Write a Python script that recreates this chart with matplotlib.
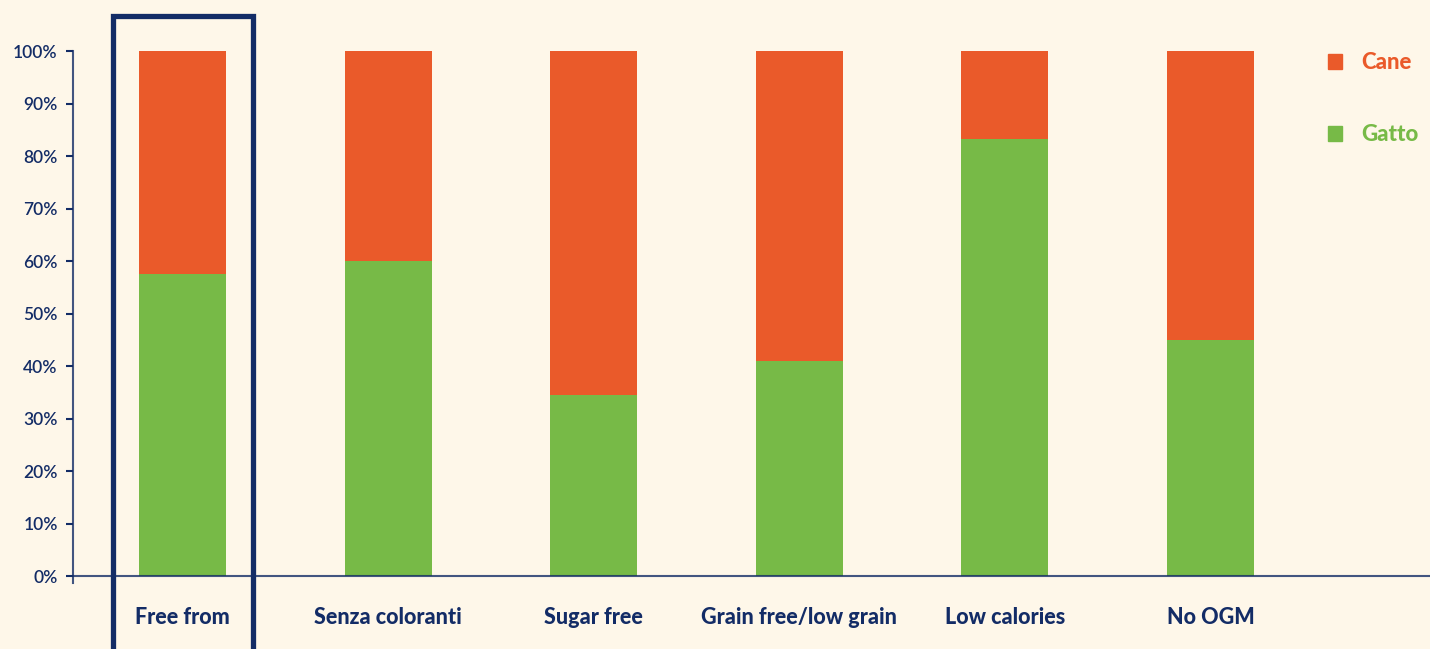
import matplotlib
matplotlib.use("Agg")
import matplotlib.pyplot as plt
from matplotlib.patches import Rectangle, Patch
import numpy as np

categories = ["Free from", "Senza coloranti", "Sugar free", "Grain free/low grain", "Low calories", "No OGM"]
gatto = [57.5, 60.0, 34.5, 41.0, 83.2, 45.0]
cane = [100 - g for g in gatto]
yticks = [0, 10, 20, 30, 40, 50, 60, 70, 80, 90, 100]

orange = "#EA5A2A"
green = "#77BA47"
navy = "#132C66"
bg = "#FEF7E9"

plt.rcParams["font.family"] = ["Lato", "DejaVu Sans"]

fig = plt.figure(figsize=(14.3, 6.49), dpi=100, facecolor=bg)
W, H = 1430, 649
ax = fig.add_axes([73 / W, (H - 583) / H, (W - 73) / W, (583 - 51) / H])
ax.set_facecolor(bg)

x = np.arange(len(categories))
ax.bar(x, gatto, width=0.423, color=green, zorder=2)
ax.bar(x, cane, bottom=gatto, width=0.423, color=orange, zorder=2)

ax.set_xlim(-0.5326, 6.068)
ax.set_ylim(-1.33, 100)
ax.axhline(0, color=navy, lw=1.5, alpha=0.8, zorder=3)

ax.set_yticks(yticks)
ax.set_yticklabels([f"{t}%" for t in yticks], fontweight="semibold")
ax.set_xticks(x)
ax.set_xticklabels(categories, fontweight="black")
ax.tick_params(axis="y", length=5, width=1.5, color=navy, labelcolor=navy, labelsize=12.5, pad=6)
ax.tick_params(axis="x", length=0, labelcolor=navy, labelsize=15.5, pad=17)

for s in ["top", "right", "bottom"]:
    ax.spines[s].set_visible(False)
ax.spines["left"].set_color(navy)
ax.spines["left"].set_linewidth(1.5)
ax.spines["left"].set_alpha(0.8)

# highlight box around first category
box = Rectangle((-0.338, -20), 0.681, 126.7, fill=False, edgecolor=navy, lw=3.8,
                clip_on=False, zorder=4)
ax.add_patch(box)

handles = [Patch(color=orange, label="Cane"), Patch(color=green, label="Gatto")]
leg = fig.legend(handles=handles, loc="upper left", bbox_to_anchor=(1308 / W, 1 - 32 / H),
                 frameon=False, handlelength=0.65, handleheight=0.65,
                 handletextpad=0.85, labelspacing=2.3, labelcolor=[orange, green],
                 prop={"weight": "black", "size": 16})

fig.savefig("out.png", dpi=100, facecolor=bg)
